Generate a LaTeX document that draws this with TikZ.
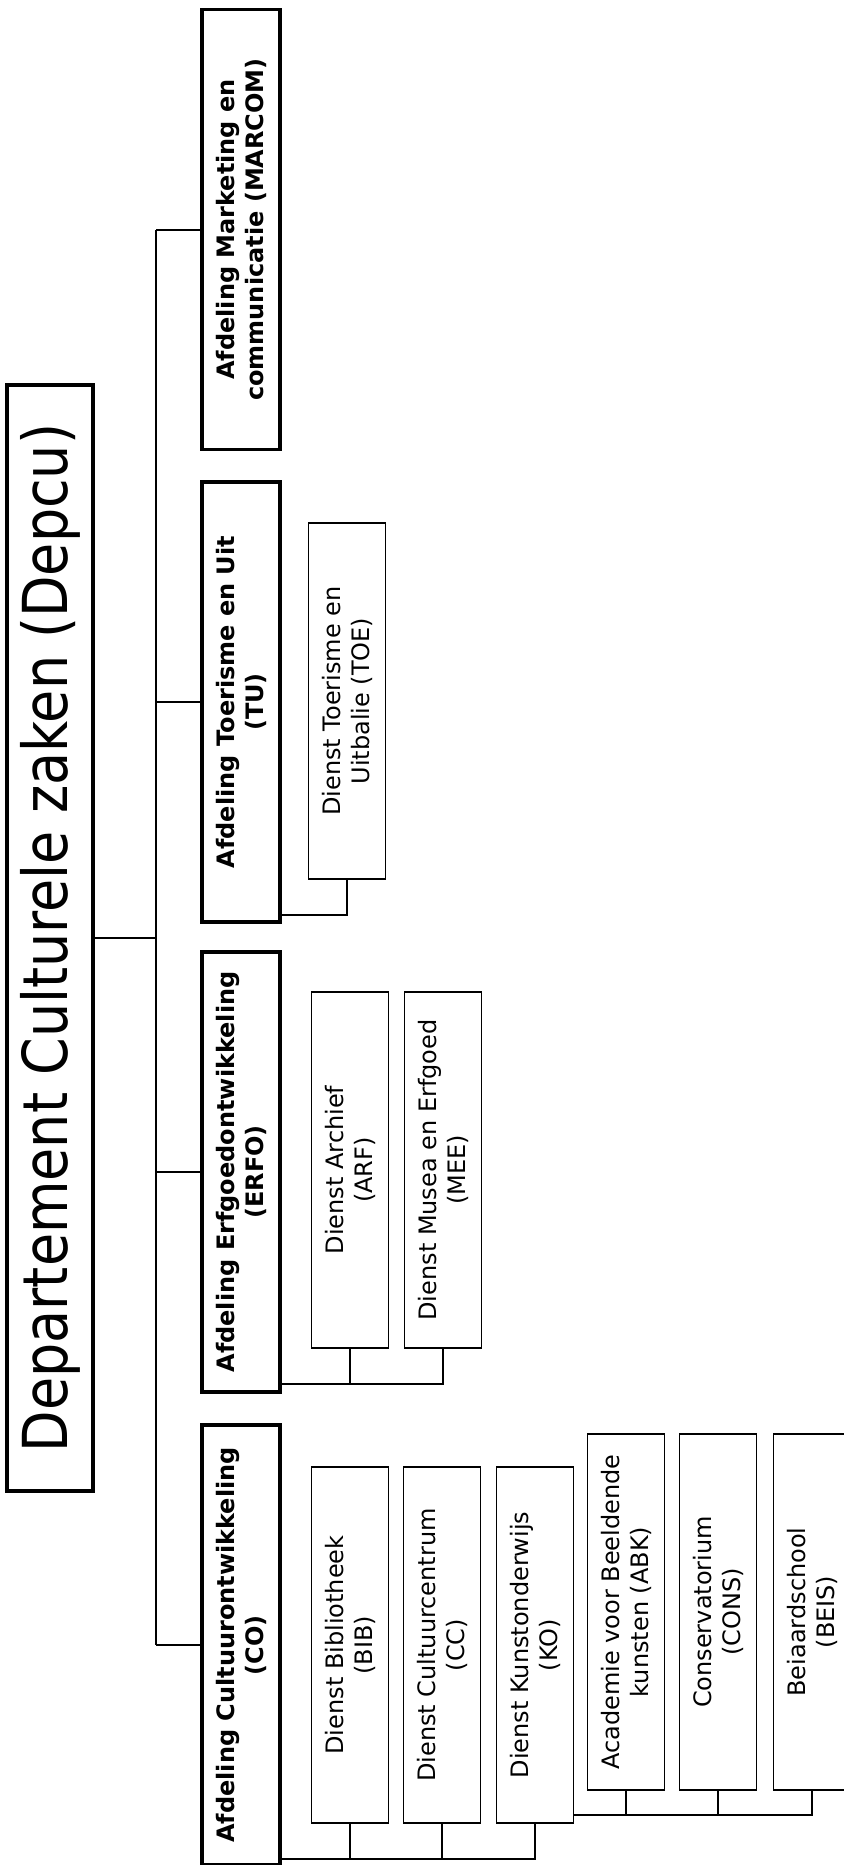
\documentclass[tikz,border=0pt]{standalone}
\usepackage{fontspec}
\setmainfont{DejaVu Sans}
\newfontfamily\depfont{DejaVu Sans}[FakeStretch=0.87]

\begin{document}
\begin{tikzpicture}[x=0.5pt,y=-0.5pt,
 dep/.style={rectangle,draw,line width=1.8pt,rotate=90,minimum width=553pt,minimum height=43pt,font=\depfont\fontsize{31}{36}\selectfont},
 afd/.style={rectangle,draw,line width=1.9pt,rotate=90,minimum width=220pt,minimum height=39pt,align=center,font=\bfseries\fontsize{12}{14.5}\selectfont},
 dst/.style={rectangle,draw,line width=0.8pt,rotate=90,minimum width=178pt,minimum height=38.5pt,align=center,font=\fontsize{12}{14.5}\selectfont},
 lijn/.style={line width=1pt}]
\useasboundingbox (0,0) rectangle (843,1865);
\node [dep] (depcu) at (50,938) {Departement Culturele zaken (Depcu)};
\node [afd] (marcom) at (241,229.5) {Afdeling Marketing en\\communicatie (MARCOM)};
\node [afd] (tu) at (241,702) {Afdeling Toerisme en Uit\\(TU)};
\node [afd] (erfo) at (241,1172) {Afdeling Erfgoedontwikkeling\\(ERFO)};
\node [afd] (co) at (241,1645) {Afdeling Cultuurontwikkeling\\(CO)};
\node [dst] (toe) at (347,701) {Dienst Toerisme en\\Uitbalie (TOE)};
\node [dst] (arf) at (350,1170) {Dienst Archief\\(ARF)};
\node [dst] (mee) at (443,1170) {Dienst Musea en Erfgoed\\(MEE)};
\node [dst] (bib) at (350,1645) {Dienst Bibliotheek\\(BIB)};
\node [dst] (cc) at (442,1645) {Dienst Cultuurcentrum\\(CC)};
\node [dst] (ko) at (535,1645) {Dienst Kunstonderwijs\\(KO)};
\node [dst] (abk) at (626,1612) {Academie voor Beeldende\\kunsten (ABK)};
\node [dst] (cons) at (718,1612) {Conservatorium\\(CONS)};
\node [dst] (beis) at (812,1612) {Beiaardschool\\(BEIS)};
\coordinate (trunk) at (156,0);
\draw [lijn] (depcu.south) -- (depcu.south -| trunk);
\draw [lijn] (marcom.north -| trunk) -- (co.north -| trunk);
\foreach \afd in {marcom,tu,erfo,co}
 \draw [lijn] (\afd.north -| trunk) -- (\afd.north);
\draw [lijn] (tu.south west) ++(0,-9) -| (toe.west);
\draw [lijn] (erfo.south west) ++(0,-10) coordinate (e1) -| (mee.west);
\draw [lijn] (arf.west) -- (arf.west |- e1);
\draw [lijn] (co.south west) ++(0,-8) coordinate (c1) -| (ko.west);
\foreach \dst in {bib,cc}
 \draw [lijn] (\dst.west) -- (\dst.west |- c1);
\draw [lijn] (ko.south west) ++(0,-9) coordinate (c2) -| (beis.west);
\foreach \dst in {abk,cons}
 \draw [lijn] (\dst.west) -- (\dst.west |- c2);
\end{tikzpicture}
\end{document}
